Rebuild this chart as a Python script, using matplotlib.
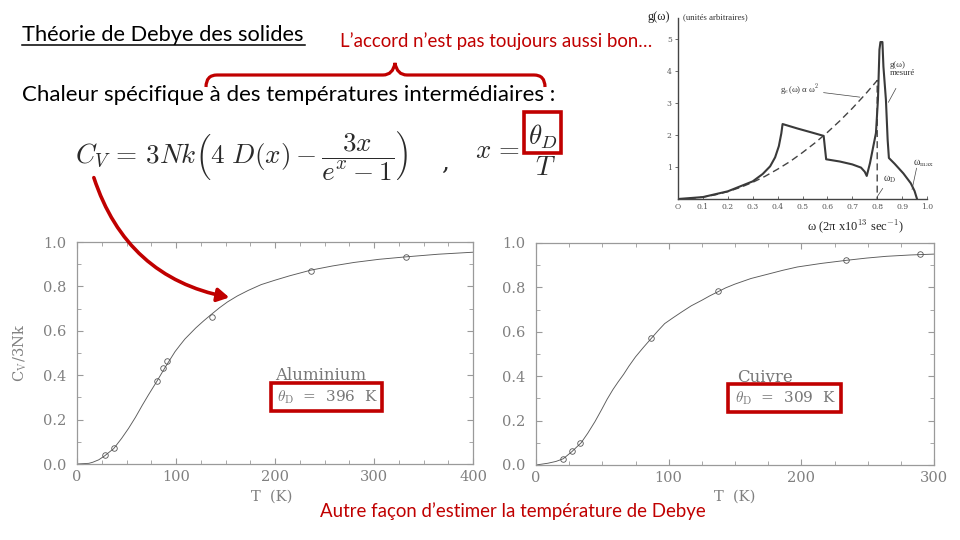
import matplotlib
matplotlib.use('Agg')
import matplotlib.pyplot as plt
from matplotlib.patches import Rectangle, FancyArrowPatch, PathPatch
from matplotlib.path import Path
from matplotlib.ticker import MultipleLocator, FixedLocator, FixedFormatter

# ---------------- data ----------------
al_T_curve = [0, 12, 16, 22, 28, 33, 37, 45, 52, 59, 66, 72, 81, 89, 99, 104, 109, 120, 128, 136, 144, 152,
              162, 173, 186, 200, 215, 236, 258, 280, 305, 332, 365, 400]
al_C_curve = [0, 0.003, 0.008, 0.019, 0.037, 0.055, 0.069, 0.115, 0.16, 0.21, 0.265, 0.31, 0.375, 0.435,
              0.506, 0.535, 0.563, 0.613, 0.645, 0.675, 0.704, 0.73, 0.757, 0.782, 0.808, 0.828, 0.848,
              0.873, 0.892, 0.908, 0.922, 0.933, 0.945, 0.954]
al_T_meas = [28, 37, 81, 86.5, 90.5, 136, 236, 332]
al_C_meas = [0.040, 0.072, 0.372, 0.431, 0.462, 0.662, 0.871, 0.931]

cu_T_curve = [0, 9, 15, 20.5, 27, 34, 39, 44.5, 49.5, 53.5, 58, 62, 66, 70, 75, 81, 87, 92, 97, 103, 110,
              117, 125, 131, 137, 143, 150, 162, 175, 186, 197, 215, 234, 249, 264, 282, 300]
cu_C_curve = [0, 0.008, 0.016, 0.028, 0.06, 0.1, 0.143, 0.196, 0.25, 0.295, 0.34, 0.375, 0.408, 0.445,
              0.487, 0.53, 0.571, 0.605, 0.637, 0.662, 0.69, 0.717, 0.742, 0.762, 0.78, 0.798, 0.815,
              0.84, 0.86, 0.877, 0.892, 0.908, 0.922, 0.932, 0.94, 0.946, 0.95]
cu_T_meas = [20.6, 27.4, 33.4, 86.7, 137.5, 234, 289.5]
cu_C_meas = [0.028, 0.063, 0.100, 0.571, 0.782, 0.922, 0.952]

x_ticks_al = [0, 100, 200, 300, 400]
x_ticks_cu = [0, 100, 200, 300]
y_ticks = [0.0, 0.2, 0.4, 0.6, 0.8, 1.0]

# phonon density of states (inset)
w_meas = [0, 0.1, 0.2, 0.3, 0.34, 0.37, 0.39, 0.405, 0.415, 0.42, 0.48, 0.54, 0.585, 0.59, 0.595, 0.65,
          0.7, 0.735, 0.75, 0.758, 0.771, 0.784, 0.795, 0.803, 0.809, 0.813, 0.821, 0.825, 0.835, 0.842,
          0.847, 0.87, 0.905, 0.935, 0.95, 0.96]
g_meas = [0, 0.06, 0.24, 0.55, 0.78, 1.02, 1.3, 1.65, 2.05, 2.34, 2.2, 2.07, 1.97, 1.6, 1.24, 1.17,
          1.08, 0.98, 0.85, 0.72, 1.12, 1.63, 2.06, 3.1, 4.66, 4.9, 4.9, 4.13, 3.1, 1.84,
          1.28, 1.1, 0.8, 0.49, 0.25, 0.0]
w_debye = [0, 0.05, 0.1, 0.15, 0.2, 0.25, 0.3, 0.35, 0.4, 0.45, 0.5, 0.55, 0.6, 0.65, 0.7, 0.75, 0.8, 0.8]
g_debye = [0, 0.015, 0.06, 0.13, 0.23, 0.36, 0.52, 0.71, 0.93, 1.17, 1.45, 1.75, 2.08, 2.44, 2.83, 3.25, 3.7, 0.0]
w_ticks = [0, 0.1, 0.2, 0.3, 0.4, 0.5, 0.6, 0.7, 0.8, 0.9, 1.0]
w_ticklabels = ['O', '0.1', '0.2', '0.3', '0.4', '0.5', '0.6', '0.7', '0.8', '0.9', '1.0']
g_ticks = [1, 2, 3, 4, 5]

# ---------------- figure ----------------
W, H = 960, 540
plt.rcParams['font.family'] = 'DejaVu Serif'
plt.rcParams['mathtext.fontset'] = 'cm'
fig = plt.figure(figsize=(9.6, 5.4), dpi=100)
fig.patch.set_facecolor('white')
renderer = fig.canvas.get_renderer()

RED = '#C00000'
AX_GRAY = '#9a9a9a'
LAB_GRAY = '#808080'
SANS = ['Lato', 'DejaVu Sans']


def fx(x):
    return x / W


def fy(y):
    return 1 - y / H


def fit_text(x0, x1, y, s, size, **kw):
    t = fig.text(fx(x0), fy(y), s, fontsize=size, va='center', ha='left', **kw)
    bb = t.get_window_extent(renderer=renderer)
    t.set_fontsize(size * (x1 - x0) / bb.width)
    return t


def rect_px(x0, y0, x1, y1, **kw):
    r = Rectangle((fx(x0), fy(y1)), fx(x1) - fx(x0), fy(y0) - fy(y1),
                  transform=fig.transFigure, fill=False, **kw)
    fig.add_artist(r)
    return r


def debye_axes(px_box, xmax, xticks, Tc, Cc, Tm, Cm):
    x0, y0, x1, y1 = px_box
    ax = fig.add_axes([fx(x0), fy(y1), fx(x1) - fx(x0), fy(y0) - fy(y1)])
    ax.plot(Tc, Cc, color='#5a5a5a', lw=0.65)
    ax.plot(Tm, Cm, 'o', mfc='none', mec='#555555', ms=4, mew=0.6)
    ax.set_xlim(0, xmax)
    ax.set_ylim(0, 1)
    ax.xaxis.set_major_locator(FixedLocator(xticks))
    ax.xaxis.set_minor_locator(MultipleLocator(25))
    ax.yaxis.set_major_locator(FixedLocator(y_ticks))
    ax.yaxis.set_major_formatter(FixedFormatter(['%.1f' % v for v in y_ticks]))
    ax.yaxis.set_minor_locator(MultipleLocator(0.1))
    ax.tick_params(which='both', direction='in', top=True, right=True, color=AX_GRAY,
                   labelcolor=LAB_GRAY, labelsize=10.5)
    ax.tick_params(which='major', length=4.5, width=0.8)
    ax.tick_params(which='minor', length=3, width=0.6)
    ax.tick_params(axis='y', pad=8)
    ax.tick_params(axis='x', pad=4)
    for sp in ax.spines.values():
        sp.set_color(AX_GRAY)
        sp.set_linewidth(0.9)
    return ax


ax_al = debye_axes((77, 242, 473, 464), 400, x_ticks_al, al_T_curve, al_C_curve, al_T_meas, al_C_meas)
ax_cu = debye_axes((536, 243, 934, 465), 300, x_ticks_cu, cu_T_curve, cu_C_curve, cu_T_meas, cu_C_meas)

fig.text(fx(20), fy(353), r'C$_{\rm V}$/3Nk', rotation=90, ha='center', va='center',
         color=LAB_GRAY, fontsize=10.5)
fig.text(fx(272), fy(497), 'T  (K)', ha='center', va='center', color=LAB_GRAY, fontsize=10.5)
fig.text(fx(735), fy(497), 'T  (K)', ha='center', va='center', color=LAB_GRAY, fontsize=10.5)

fig.text(fx(275), fy(376), 'Aluminium', ha='left', va='center', color='#777777', fontsize=12)
fig.text(fx(277), fy(397), r'$\theta_{\rm D}$  =  396  K', ha='left', va='center', color='#777777', fontsize=11)
fig.text(fx(737), fy(377), 'Cuivre', ha='left', va='center', color='#777777', fontsize=12)
fig.text(fx(735), fy(398), r'$\theta_{\rm D}$  =  309  K', ha='left', va='center', color='#777777', fontsize=11)
rect_px(271, 383, 382, 411, edgecolor=RED, lw=2.6, zorder=5)
rect_px(728, 384, 841, 412, edgecolor=RED, lw=2.6, zorder=5)

# ---------------- inset g(omega) ----------------
axi = fig.add_axes([fx(678), fy(199), fx(927) - fx(678), fy(18) - fy(199)])
axi.plot(w_debye, g_debye, color='#444444', lw=1.0, ls=(0, (5, 3)))
axi.plot(w_meas, g_meas, color='#3a3a3a', lw=1.5)
axi.set_xlim(0, 1.0)
axi.set_ylim(0, 5.65)
axi.spines['top'].set_visible(False)
axi.spines['right'].set_visible(False)
for s in ('left', 'bottom'):
    axi.spines[s].set_color('#444444')
    axi.spines[s].set_linewidth(1.0)
axi.xaxis.set_major_locator(FixedLocator(w_ticks))
axi.xaxis.set_major_formatter(FixedFormatter(w_ticklabels))
axi.yaxis.set_major_locator(FixedLocator(g_ticks))
axi.tick_params(axis='x', direction='in', length=2.5, width=0.6, labelsize=5.5, pad=3,
                color='#555555', labelcolor='#555555')
axi.tick_params(axis='y', direction='out', length=2.5, width=0.6, labelsize=5.5, pad=2,
                color='#555555', labelcolor='#555555')
axi.patch.set_alpha(0)

SERIF = 'Liberation Serif'
fig.text(fx(647), fy(17), 'g(ω)', ha='left', va='center', fontsize=9, family=SERIF, color='#222222')
fig.text(fx(683), fy(17), '(unités arbitraires)', ha='left', va='center', fontsize=6.3, family=SERIF, color='#333333')
fig.text(fx(856), fy(226), r'ω (2π x10$^{13}$ sec$^{-1}$)', ha='center', va='center', fontsize=9,
         family=SERIF, color='#222222')
axi.text(0.41, 3.4, r'g$_e$(ω) α ω$^2$', fontsize=6.3, family=SERIF, color='#333333', va='center', ha='left')
axi.plot([0.585, 0.73], [3.32, 3.18], color='#444444', lw=0.5)
axi.text(0.85, 4.05, 'g(ω)\nmesuré', fontsize=6.3, family=SERIF, color='#333333', va='center', ha='left',
         linespacing=1.0)
axi.plot([0.875, 0.845], [3.45, 3.02], color='#444444', lw=0.5)
axi.text(0.822, 0.62, r'ω$_{\rm D}$', fontsize=7, family=SERIF, color='#333333', va='center', ha='left')
axi.plot([0.822, 0.80], [0.33, 0.07], color='#444444', lw=0.5)
axi.text(0.945, 1.12, r'ω$_{\rm max}$', fontsize=7, family=SERIF, color='#333333', va='center', ha='left',
         clip_on=False)
axi.plot([0.958, 0.94], [0.96, 0.3], color='#444444', lw=0.5)

# ---------------- slide texts ----------------
fit_text(22, 305, 35, 'Théorie de Debye des solides', 15, family=SANS, color='black')
fig.add_artist(plt.Line2D([fx(22), fx(305)], [fy(45), fy(45)], transform=fig.transFigure, color='black', lw=1.1))
fit_text(340, 652, 41, 'L’accord n’est pas toujours aussi bon…', 12, family=SANS, color=RED)
fit_text(22, 555, 95, 'Chaleur spécifique à des températures intermédiaires :', 16, family=SANS, color='black')
fit_text(320, 705, 511, 'Autre façon d’estimer la température de Debye', 13, family=SANS, color=RED)

fit_text(75, 410, 157, r'$C_V \,=\, 3Nk\left(4\ D(x) - \dfrac{3x}{e^x - 1}\right)$', 20, color='#2a2a2a')
fig.text(fx(445), fy(163), ',', fontsize=18, ha='center', va='center', color='#2a2a2a')
fit_text(475, 560, 150, r'$x \,=\, \dfrac{\theta_D}{T}$', 20, color='#2a2a2a')
rect_px(524, 112, 561, 153, edgecolor=RED, lw=2.6, zorder=5)

# curly brace
bv = [(206, 87), (206, 75), (217, 75), (383, 75), (393, 75), (395, 63), (397, 75), (407, 75),
      (534, 75), (545, 75), (545, 87)]
bc = [Path.MOVETO, Path.CURVE3, Path.CURVE3, Path.LINETO, Path.CURVE3, Path.CURVE3, Path.CURVE3, Path.CURVE3,
      Path.LINETO, Path.CURVE3, Path.CURVE3]
brace = PathPatch(Path([(fx(a), fy(b)) for a, b in bv], bc), transform=fig.transFigure,
                  fill=False, edgecolor=RED, lw=2.3, zorder=5)
fig.add_artist(brace)

# arrow
arr = FancyArrowPatch((fx(93), fy(175)), (fx(232), fy(298)), transform=fig.transFigure,
                      connectionstyle='arc3,rad=0.3', arrowstyle='-|>,head_length=7,head_width=4',
                      lw=2.6, color=RED, zorder=6)
fig.add_artist(arr)

fig.savefig('out.png', dpi=100)
